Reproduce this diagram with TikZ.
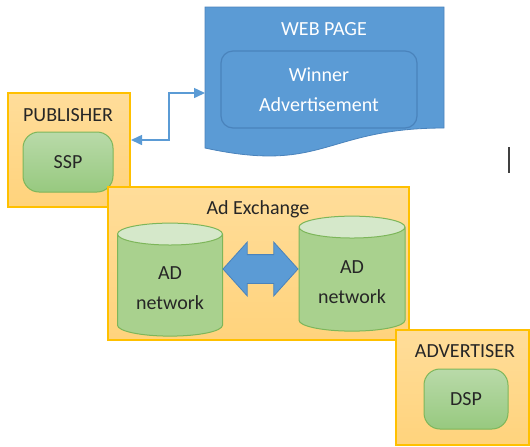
\documentclass[tikz,border=0pt]{standalone}
\usepackage{fontspec}
\setmainfont{Carlito}
\usetikzlibrary{shapes.geometric,shapes.arrows,arrows.meta}

\definecolor{goldline}{HTML}{FFC000}
\definecolor{goldtop}{HTML}{FFDD9A}
\definecolor{goldbot}{HTML}{FFD37C}
\definecolor{greenline}{HTML}{7DB65A}
\definecolor{greentop}{HTML}{B9DAA9}
\definecolor{greenbot}{HTML}{97C97F}
\definecolor{cylbody}{HTML}{A9D18E}
\definecolor{cylend}{HTML}{D5E8CA}
\definecolor{webblue}{HTML}{5B9BD5}
\definecolor{webline}{HTML}{4A83BC}
\definecolor{ink}{HTML}{262626}

\tikzset{
  goldbox/.style={draw=goldline, line width=0.75pt, top color=goldtop, bottom color=goldbot},
  greenpill/.style={draw=greenline, line width=0.5pt, top color=greentop, bottom color=greenbot,
    rounded corners=8pt, minimum width=45pt, minimum height=30pt, text=ink},
  adnet/.style={cylinder, shape border rotate=90, aspect=0.27, draw=greenline, line width=0.5pt,
    cylinder uses custom fill, cylinder body fill=cylbody, cylinder end fill=cylend,
    align=center, text=ink},
  boxlabel/.style={text=ink, inner sep=0pt},
}

\begin{document}
\begin{tikzpicture}[x=0.5pt, y=-0.5pt, font=\fontsize{10}{15}\selectfont]
  \useasboundingbox (0,0) rectangle (530,446);

  % publisher
  \node [goldbox, minimum width=61pt, minimum height=57pt] (pub) at (69,150) {};
  \node [boxlabel] (publbl) at (68,115) {PUBLISHER};
  \node [greenpill] (ssp) at (68,162) {SSP};

  % web page
  \fill [webblue, draw=webline, line width=0.4pt]
    (205,7) -- (444,7) -- (444,128) .. controls (324.5,128) and (324.5,174) .. (205,148) -- cycle;
  \node [boxlabel, text=white] (weblbl) at (324,29) {WEB PAGE};
  \node [draw=webline, fill=webblue, line width=0.6pt, rounded corners=6pt,
    minimum width=98pt, minimum height=38.5pt, align=center, text=white] (winner) at (319,89.5)
    {Winner\\Advertisement};

  % ad exchange
  \node [goldbox, minimum width=150.5pt, minimum height=76.5pt] (adx) at (258.5,263.5) {};
  \node [boxlabel] (adxlbl) at (258,209) {Ad Exchange};
  \node [adnet, minimum width=52.5pt, minimum height=56.5pt] (net1) at (170,288) {AD\\network};
  \node [adnet, minimum width=53pt, minimum height=57.5pt] (net2) at (352,282) {AD\\network};
  \node [double arrow, double arrow head extend=6.25pt, double arrow tip angle=96,
    minimum height=37.5pt, inner sep=7pt, fill=webblue, draw=webline, line width=0.4pt] (swap) at (260.5,269) {};

  % advertiser
  \node [goldbox, minimum width=66.5pt, minimum height=57.5pt] (adv) at (462.5,387.5) {};
  \node [boxlabel] (advlbl) at (465,351) {ADVERTISER};
  \node [greenpill, minimum width=42pt] (dsp) at (466,399) {DSP};

  % link publisher <-> web page
  \coordinate (pubport) at (131,140);
  \coordinate (webport) at (205,93);
  \draw [webblue, line width=0.75pt, {Triangle[length=5.5pt,width=5pt]}-{Triangle[length=5.5pt,width=5pt]}]
    (pubport) -- (169,140) |- (webport);

  \draw [black!75, line width=1pt] (509,147) -- (509,173);
\end{tikzpicture}
\end{document}
